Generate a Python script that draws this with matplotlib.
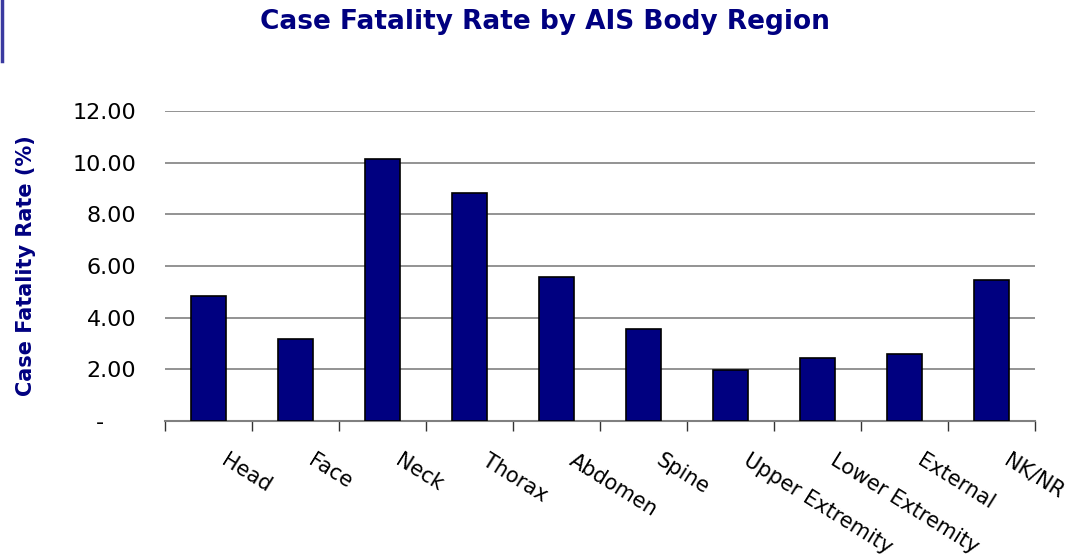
import matplotlib.pyplot as plt
import numpy as np
import matplotlib.transforms as mtransforms
from matplotlib.lines import Line2D

regions = ['Head', 'Face', 'Neck', 'Thorax', 'Abdomen', 'Spine',
           'Upper Extremity', 'Lower Extremity', 'External', 'NK/NR']
rates = [4.83, 3.17, 10.14, 8.84, 5.59, 3.58, 1.96, 2.43, 2.58, 5.46]
yticks = [0, 2, 4, 6, 8, 10, 12]
ytick_labels = ['-', '2.00', '4.00', '6.00', '8.00', '10.00', '12.00']

navy = '#000080'

fig = plt.figure(figsize=(10.73, 5.58), dpi=100)
ax = fig.add_axes([0.154, 0.2455, 0.8106, 0.5556])

x = np.arange(len(regions))
ax.bar(x, rates, width=0.4, color=navy, edgecolor='black', linewidth=1.2, zorder=3)

ax.set_xlim(-0.5, len(regions) - 0.5)
ax.set_ylim(0, 12)
ax.set_yticks(yticks)
ax.set_yticklabels(ytick_labels)
ax.yaxis.grid(True, color='#808080', linewidth=1.2, zorder=0)
ax.tick_params(axis='y', length=0, pad=21, labelsize=16)
# the zero label "-" sits further left, as in accounting format
shift = mtransforms.ScaledTranslation(-32 / 100, 0, fig.dpi_scale_trans)
zero_lab = ax.get_yticklabels()[0]
zero_lab.set_transform(zero_lab.get_transform() + shift)

# boundary ticks (major), labels at centres (minor)
ax.set_xticks(np.arange(len(regions) + 1) - 0.5)
ax.set_xticklabels([])
ax.tick_params(axis='x', which='major', direction='out', length=7, color='#333333', width=1)
ax.set_xticks(x, minor=True)
ax.set_xticklabels(regions, minor=True, rotation=-32, ha='left', va='top')
ax.tick_params(axis='x', which='minor', length=0, pad=21, labelsize=15)
offset = mtransforms.ScaledTranslation(9 / 100, 0, fig.dpi_scale_trans)
for lab in ax.get_xticklabels(minor=True):
    lab.set_transform(lab.get_transform() + offset)

for s in ['top', 'right', 'left']:
    ax.spines[s].set_visible(False)
ax.spines['bottom'].set_color('#808080')
ax.spines['bottom'].set_linewidth(1.5)

ax.set_ylabel('Case Fatality Rate (%)', color=navy, fontsize=15, fontweight='bold', labelpad=26)
fig.text(0.508, 0.96, 'Case Fatality Rate by AIS Body Region', color=navy,
         fontsize=19, fontweight='bold', ha='center', va='center')

fig.add_artist(Line2D([0.002, 0.002], [1.0, 0.89], transform=fig.transFigure,
                      color='#3a3aa0', linewidth=2.5))

fig.savefig('out.png', dpi=100)
